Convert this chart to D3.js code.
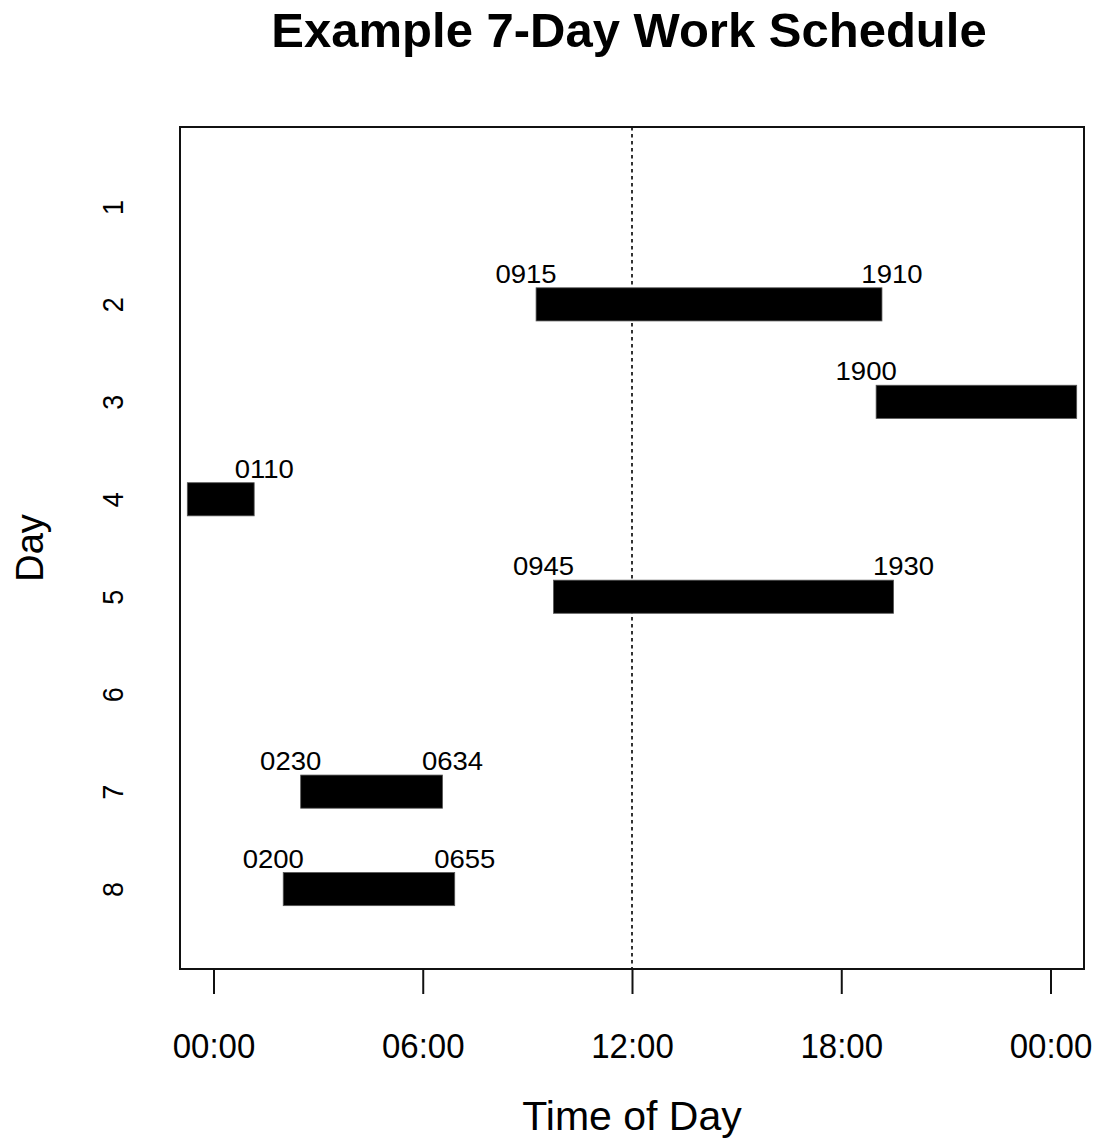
<!DOCTYPE html>
<html>
<head>
<meta charset="utf-8">
<script src="https://cdn.jsdelivr.net/npm/d3@7"></script>
<style>
  html, body { margin: 0; padding: 0; background: #fff; }
  svg { display: block; }
  text { font-family: "Liberation Sans", Arial, sans-serif; fill: #000; }
</style>
</head>
<body>
<svg id="chart" width="1094" height="1141"></svg>
<script>
// Shifts: day number, start hour, end hour (decimal hours).
// The overnight shift runs past midnight on both sides of the day boundary.
const days = [2, 3, 4, 5, 7, 8];
const startHours = [9.25, 19, -0.75, 9.75, 2.5, 2];
const endHours = [19 + 10 / 60, 24.75, 1 + 10 / 60, 19.5, 6 + 34 / 60, 6 + 55 / 60];
// Labels shown at each end of a bar ("" means no label at that end).
const startLabels = ["0915", "1900", "", "0945", "0230", "0200"];
const endLabels = ["1910", "", "0110", "1930", "0634", "0655"];

const dayTicks = [1, 2, 3, 4, 5, 6, 7, 8];
const hourTicks = [0, 6, 12, 18, 24];
const hourTickLabels = ["00:00", "06:00", "12:00", "18:00", "00:00"];

const svg = d3.select("#chart");

const plot = { left: 180, right: 1084, top: 127, bottom: 969 };

const x = d3.scaleLinear().domain([-0.96, 24.96]).range([plot.left, plot.right]);
const y = d3.scaleLinear().domain([0.18, 8.82]).range([plot.top, plot.bottom]);

const barHalf = 0.17;    // half bar thickness in day units
const labelRise = 0.22;  // label baseline above day centre, in day units
const labelShift = 10;   // px nudge of labels away from the bar ends

// Title
svg.append("text")
  .attr("x", 629).attr("y", 47)
  .attr("text-anchor", "middle")
  .attr("font-weight", "bold")
  .attr("font-size", 49)
  .text("Example 7-Day Work Schedule");

// Noon reference line
svg.append("line")
  .attr("x1", x(12)).attr("x2", x(12))
  .attr("y1", plot.top).attr("y2", plot.bottom)
  .attr("stroke", "#000").attr("stroke-width", 1.6)
  .attr("stroke-dasharray", "3.5,3.5");

// Shift bars
const shifts = days.map((d, i) => ({
  day: d, start: startHours[i], end: endHours[i],
  startLabel: startLabels[i], endLabel: endLabels[i]
}));

svg.append("g").selectAll("rect").data(shifts).join("rect")
  .attr("x", d => x(d.start))
  .attr("width", d => x(d.end) - x(d.start))
  .attr("y", d => y(d.day - barHalf))
  .attr("height", d => y(d.day + barHalf) - y(d.day - barHalf))
  .attr("fill", "#000")
  .attr("stroke", "#555").attr("stroke-width", 0.8);

// Clock-time labels over the bar ends
const labels = svg.append("g").attr("font-size", 25);
labels.selectAll("text.s").data(shifts.filter(d => d.startLabel)).join("text")
  .attr("class", "s")
  .attr("transform", d => `translate(${x(d.start) - labelShift},${y(d.day - labelRise)}) scale(1.1,1)`)
  .attr("text-anchor", "middle")
  .text(d => d.startLabel);
labels.selectAll("text.e").data(shifts.filter(d => d.endLabel)).join("text")
  .attr("class", "e")
  .attr("transform", d => `translate(${x(d.end) + labelShift},${y(d.day - labelRise)}) scale(1.1,1)`)
  .attr("text-anchor", "middle")
  .text(d => d.endLabel);

// Plot frame
svg.append("rect")
  .attr("x", plot.left).attr("y", plot.top)
  .attr("width", plot.right - plot.left).attr("height", plot.bottom - plot.top)
  .attr("fill", "none").attr("stroke", "#111").attr("stroke-width", 2);

// Bottom time axis
const xAxis = d3.axisBottom(x)
  .tickValues(hourTicks)
  .tickFormat((d, i) => hourTickLabels[i])
  .tickSize(25);
const gx = svg.append("g")
  .attr("transform", `translate(0,${plot.bottom})`)
  .call(xAxis);
gx.select(".domain").attr("stroke", "#111").attr("stroke-width", 2)
  .attr("d", `M${x(0)},0H${x(24)}`);
gx.selectAll(".tick line").attr("stroke", "#111").attr("stroke-width", 2);
gx.selectAll(".tick text")
  .attr("font-family", "Liberation Sans, Arial, sans-serif")
  .attr("font-size", 33)
  .attr("fill", "#000")
  .attr("y", 0).attr("dy", 0)
  .attr("transform", "translate(0,89) scale(1,1.07)");

// Left day labels (rotated, no tick marks)
const yAxis = d3.axisLeft(y).tickValues(dayTicks).tickSize(0).tickPadding(0);
const gy = svg.append("g").attr("transform", "translate(115,0)").call(yAxis);
gy.select(".domain").remove();
gy.selectAll(".tick text")
  .attr("font-family", "Liberation Sans, Arial, sans-serif")
  .attr("font-size", 27)
  .attr("fill", "#000")
  .attr("x", 0).attr("y", 0).attr("dy", 0)
  .attr("text-anchor", "middle")
  .attr("transform", "translate(8,0) rotate(-90) scale(1,1.1)");

// Axis titles
svg.append("text")
  .attr("x", 632).attr("y", 1130)
  .attr("text-anchor", "middle")
  .attr("font-size", 41)
  .text("Time of Day");

svg.append("text")
  .attr("transform", `translate(43,${(plot.top + plot.bottom) / 2}) rotate(-90)`)
  .attr("text-anchor", "middle")
  .attr("font-size", 38)
  .text("Day");
</script>
</body>
</html>
